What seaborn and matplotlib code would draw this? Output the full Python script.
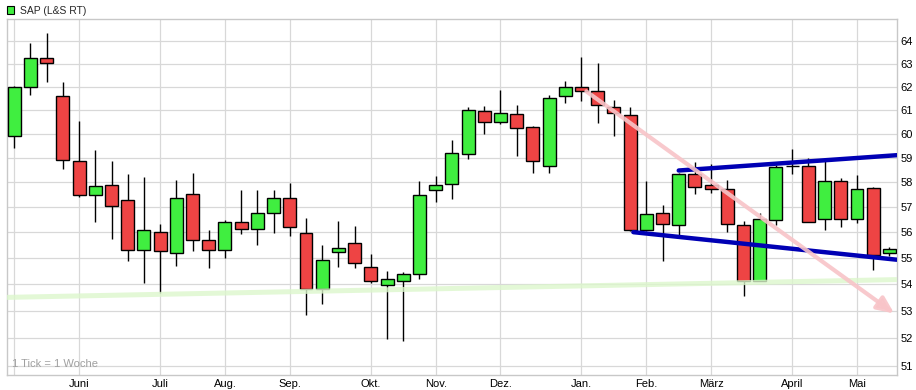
import matplotlib
matplotlib.use("Agg")
import matplotlib.pyplot as plt
from matplotlib.patches import Rectangle
from matplotlib.ticker import NullLocator
import numpy as np
import seaborn as sns
import pandas as pd

# weekly candles SAP (L&S RT), May .. May
opens = [59.9, 62.0, 63.25, 61.6, 58.88, 57.48, 57.9, 57.28, 55.31, 56.0,
         55.19, 57.53, 55.69, 55.31, 56.4, 56.11, 56.76, 57.36, 55.96, 53.81,
         55.23, 55.58, 54.65, 53.96, 54.12, 54.38, 57.69, 57.92, 59.13, 60.96,
         60.49, 60.83, 60.28, 58.65, 61.58, 62.0, 61.83, 61.12, 60.79, 56.08,
         56.76, 56.28, 58.32, 57.88, 57.72, 56.28, 54.12, 56.48, 58.64, 58.64,
         56.52, 58.04, 56.52, 57.76, 55.19]
highs = [62.05, 63.95, 64.4, 62.2, 60.55, 59.3, 58.85, 58.33, 58.22, 56.33,
         58.08, 58.37, 56.09, 56.48, 57.69, 57.69, 57.69, 57.97, 56.57, 55.5,
         56.45, 56.25, 55.15, 54.5, 54.46, 58.04, 58.25, 59.75, 61.11, 61.17,
         61.87, 61.21, 60.32, 61.63, 62.27, 63.32, 63.04, 61.42, 61.12, 58.04,
         57.08, 58.36, 58.84, 58.72, 58.08, 56.44, 56.76, 58.68, 59.34, 59.0,
         59.0, 58.16, 58.28, 57.8, 55.42]
lows = [59.4, 61.65, 62.2, 58.55, 57.38, 56.38, 55.75, 54.88, 54.04, 53.67,
        54.68, 55.25, 54.6, 54.98, 55.91, 55.48, 55.98, 55.83, 52.83, 53.25,
        54.64, 54.6, 54.04, 51.97, 51.9, 54.19, 57.2, 57.3, 58.95, 59.97,
        60.41, 59.07, 58.38, 58.38, 61.29, 61.37, 60.44, 59.9, 56.04, 56.04,
        54.88, 55.88, 57.52, 57.56, 56.0, 53.57, 54.1, 56.28, 58.34, 56.4,
        56.08, 56.22, 56.36, 54.54, 55.08]
closes = [62.0, 63.25, 63.03, 58.9, 57.48, 57.85, 57.04, 55.31, 56.08, 55.27,
          57.36, 55.69, 55.31, 56.4, 56.11, 56.76, 57.36, 56.2, 53.81, 54.92,
          55.38, 54.81, 54.12, 54.19, 54.38, 57.48, 57.89, 59.2, 61.0, 60.49,
          60.87, 60.24, 58.88, 61.5, 62.0, 61.83, 61.21, 60.87, 56.08, 56.72,
          56.32, 58.32, 57.8, 57.72, 56.32, 54.12, 56.52, 58.6, 58.64, 56.4,
          58.04, 56.52, 57.72, 55.11, 55.35]

months = ["", "Juni", "Juli", "Aug.", "Sep.", "Okt.", "Nov.", "Dez.", "Jan.",
          "Feb.", "März", "April", "Mai"]
month_week = [0, 4, 9, 13, 17, 22, 26, 30, 35, 39, 43, 48, 52]

# drawn trend lines (week index, price)
support_x = [-0.45, 54.45]
support_y = [53.5, 54.17]
upper_x = [41.0, 54.45]
upper_y = [58.47, 59.1]
lower_x = [38.2, 54.45]
lower_y = [56.0, 54.93]
arrow_x = [35.3, 54.3]
arrow_y = [61.8, 52.9]

df = pd.DataFrame({"open": opens, "high": highs, "low": lows, "close": closes})
df["week"] = np.arange(len(df))

sns.set_style("white")
plt.rcParams["font.family"] = ["Liberation Sans", "DejaVu Sans"]

fig = plt.figure(figsize=(9.16, 3.9), dpi=100)
ax = fig.add_axes([7 / 916, 15 / 390, 889.7 / 916, 355.7 / 390])
ax.set_yscale("log")

green = "#40ee40"
red = "#ee4444"
cols = [green if c > o else (red if c < o else "black") for o, c in zip(df.open, df.close)]

ax.vlines(df.week, df.low, df.high, color="black", lw=1, zorder=2)
bottom = np.minimum(df.open, df.close)
height = np.maximum(np.abs(df.close - df.open), 0.001)
ax.bar(df.week, height, bottom=bottom, width=0.8, color=cols,
       edgecolor="black", linewidth=1, zorder=3)

sns.lineplot(x=support_x, y=support_y, ax=ax, color="#dcf7cc", lw=3.6, alpha=0.8, zorder=4)
sns.lineplot(x=upper_x, y=upper_y, ax=ax, color="#0000b4", lw=3.2, zorder=5)
sns.lineplot(x=lower_x, y=lower_y, ax=ax, color="#0000b4", lw=3.2, zorder=5)
ax.annotate("", xy=(arrow_x[1], arrow_y[1]), xytext=(arrow_x[0], arrow_y[0]),
            arrowprops=dict(arrowstyle="-|>,head_length=1.0,head_width=0.45",
                            color="#f8c4c8", lw=3.0, alpha=0.9, shrinkA=0, shrinkB=0),
            zorder=6)

ax.set_xlim(-0.45, 54.45)
ax.set_ylim(50.67, 65.0)
ax.set_xticks(month_week)
ax.set_xticklabels(months)
ax.set_yticks(range(51, 65))
ax.set_yticklabels([str(v) for v in range(51, 65)])
ax.yaxis.set_minor_locator(NullLocator())
ax.yaxis.tick_right()
ax.tick_params(axis="both", length=0, labelsize=8, colors="black")
ax.tick_params(axis="y", pad=3)
ax.tick_params(axis="x", pad=3)
ax.grid(True, color="#d8d8d8", lw=0.9)
ax.set_axisbelow(True)
for s in ax.spines.values():
    s.set_color("#c8c8c8")
    s.set_linewidth(1)
ax.set_xlabel("")
ax.set_ylabel("")

ax.text(0.006, 0.018, "1 Tick = 1 Woche", transform=ax.transAxes, fontsize=8,
        color="#a0a0a0", va="bottom", ha="left")

fig.patches.append(Rectangle((7 / 916, 1 - 14 / 390), 7.5 / 916, 7.5 / 390,
                             transform=fig.transFigure, facecolor=green,
                             edgecolor="black", lw=0.8))
fig.text(20 / 916, 1 - 10.5 / 390, "SAP (L&S RT)", fontsize=7.5, va="center", ha="left")

fig.savefig("out.png", dpi=100)
